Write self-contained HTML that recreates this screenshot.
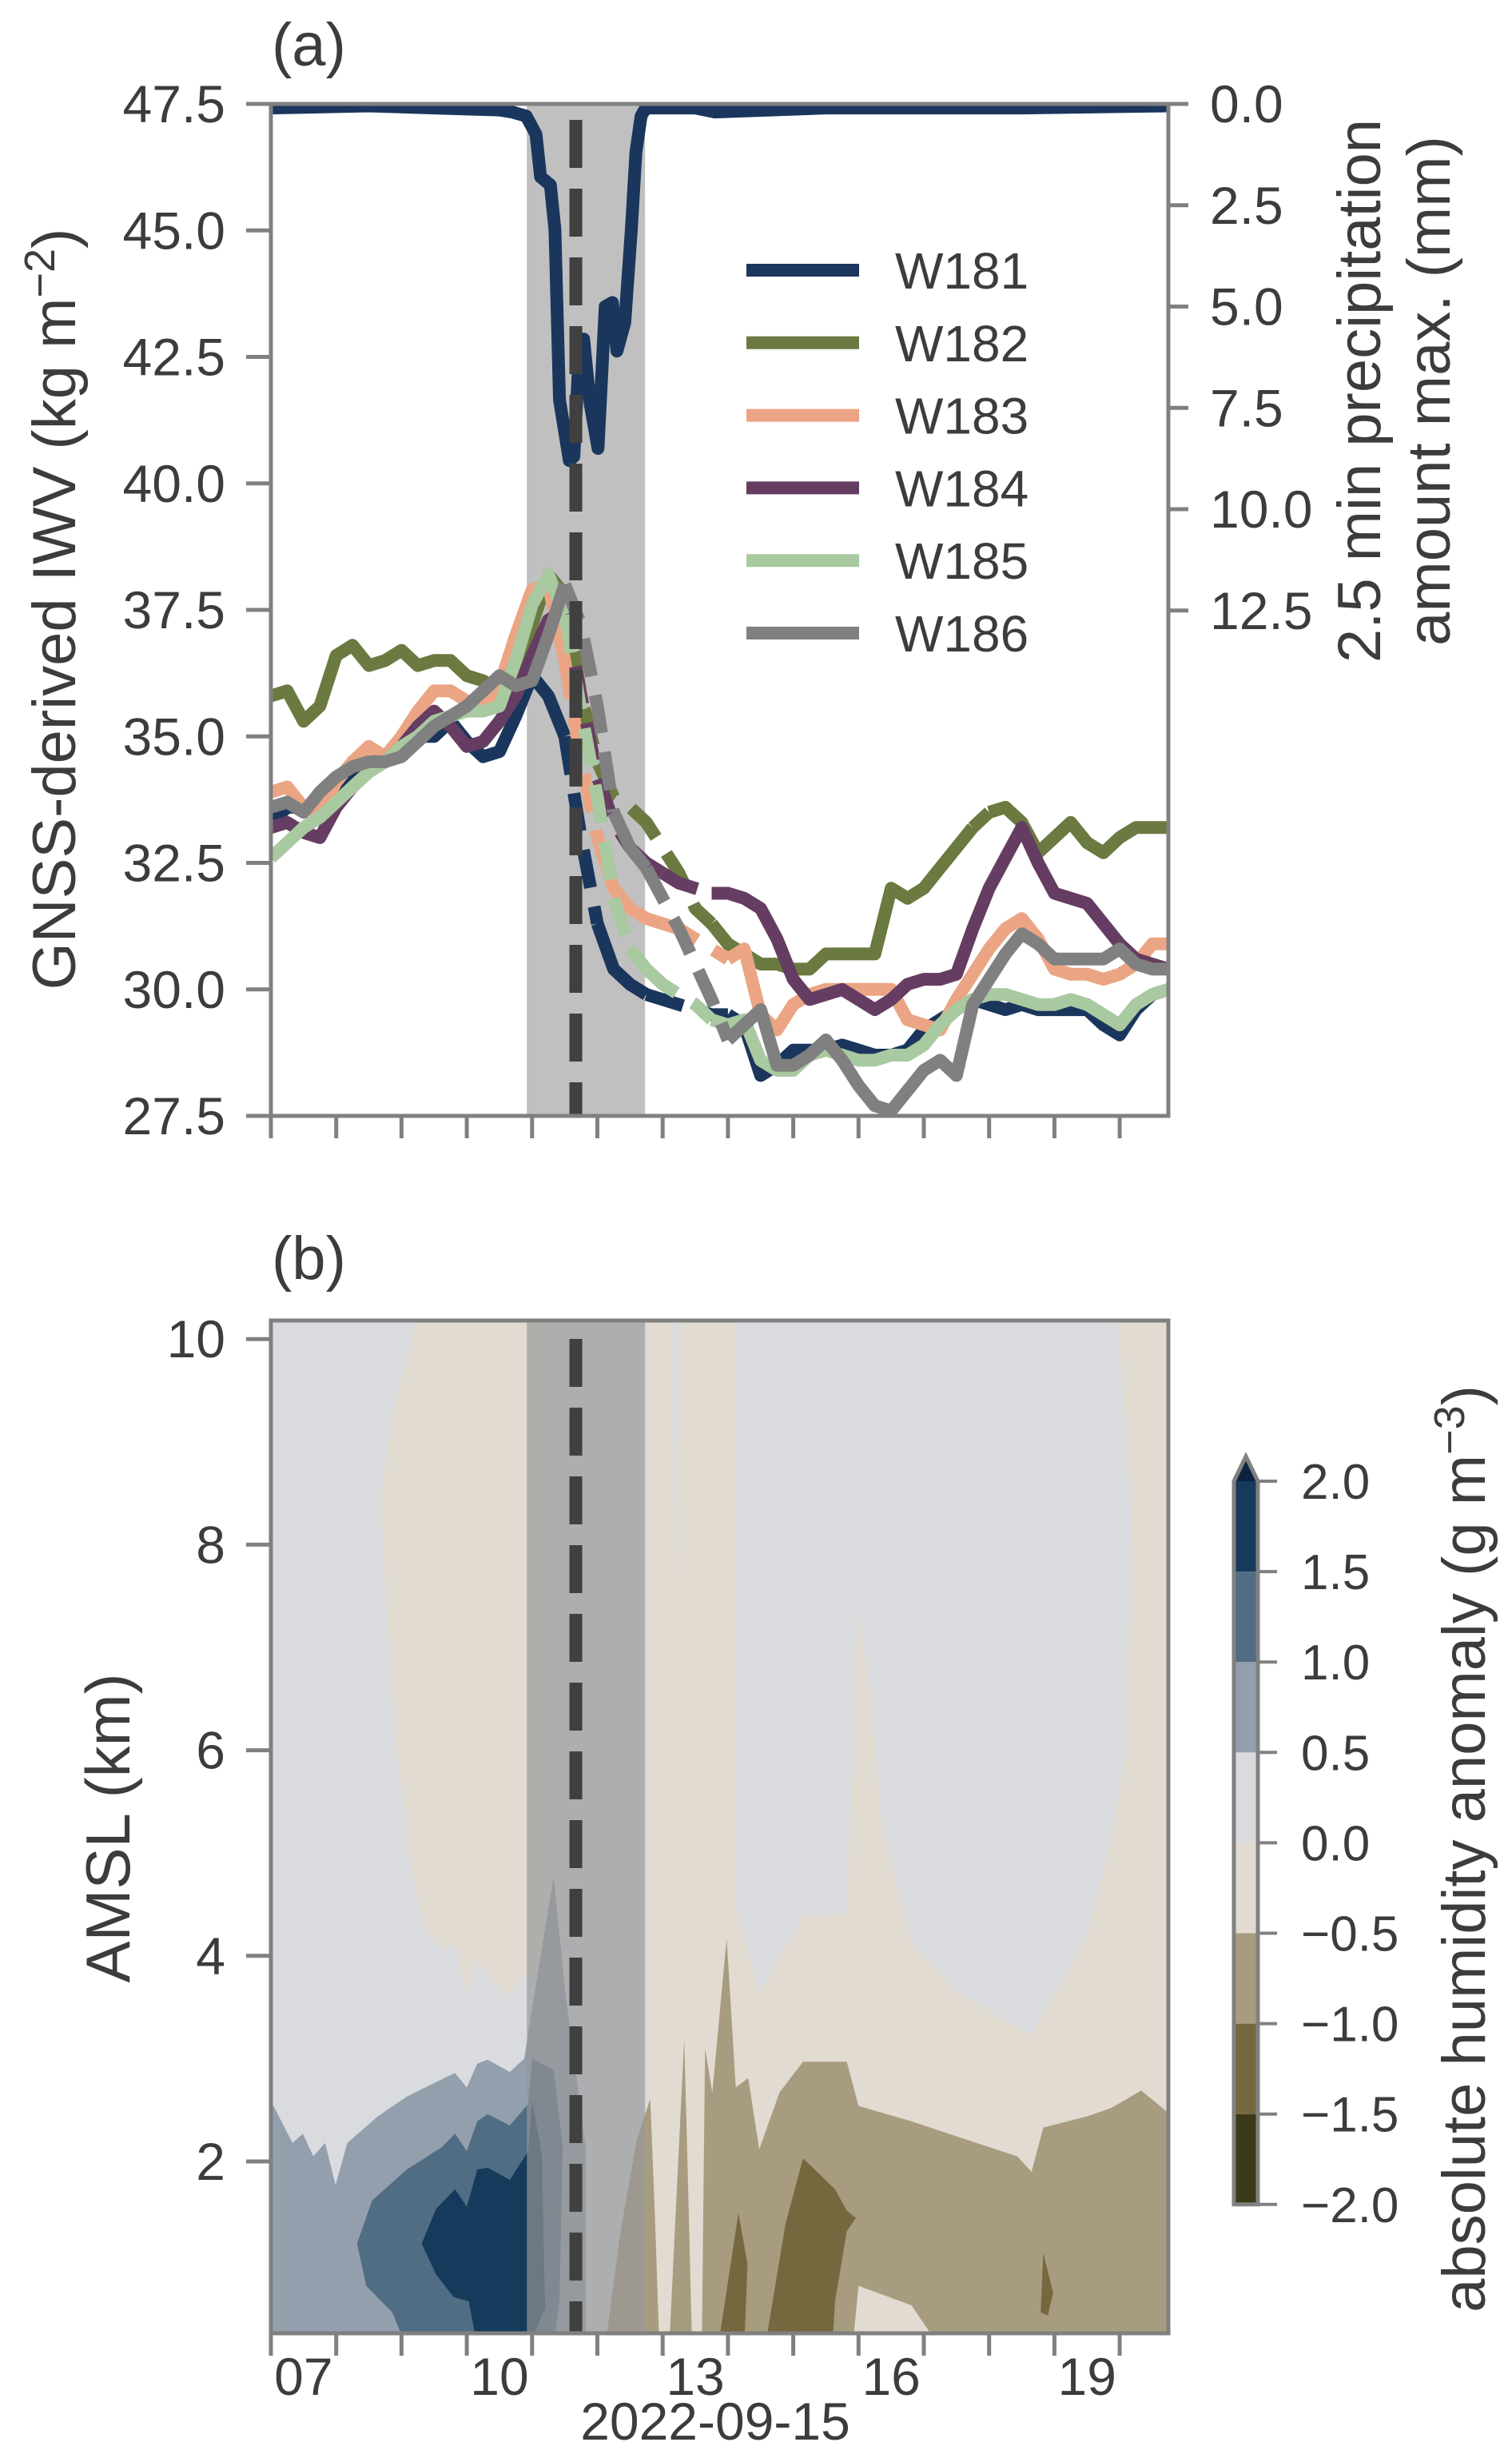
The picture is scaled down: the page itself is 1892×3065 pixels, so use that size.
<!DOCTYPE html>
<html><head><meta charset="utf-8">
<style>
html,body{margin:0;padding:0;background:#fff;}
svg{display:block;}
text{font-family:"Liberation Sans",Arial,sans-serif;fill:#3c3c3c;}
</style></head>
<body>
<svg id="fig" width="1892" height="3065" viewBox="0 0 1892 3065" xmlns="http://www.w3.org/2000/svg">
<defs>
<clipPath id="clipA"><rect x="339" y="130" width="1123" height="1266"/></clipPath>
<clipPath id="clipB"><rect x="339" y="1652" width="1123" height="1267"/></clipPath>
</defs>
<g id="panelA"></g>
<g id="panelB"></g>
<g id="cbar"></g>
</svg>
<script>
// ---------- data ----------
const times = [6.5,6.75,7,7.25,7.5,7.75,8,8.25,8.5,8.75,9,9.25,9.5,9.75,10,10.25,10.5,10.75,11,11.25,11.5,11.75,12,12.25,12.5,12.75,13,13.25,13.5,13.75,14,14.25,14.5,14.75,15,15.25,15.5,15.75,16,16.25,16.5,16.75,17,17.25,17.5,17.75,18,18.25,18.5,18.75,19,19.25,19.5,19.75,20,20.25];
const seriesNames = ["W181","W182","W183","W184","W185","W186"];
const w181 = [33.3,33.6,33.6,33.7,34.0,34.2,34.4,34.6,34.8,35.0,35.0,35.3,34.9,34.6,34.7,35.4,36.2,35.8,35.0,33.0,31.3,30.4,30.1,29.9,29.8,29.7,29.6,29.5,29.5,29.3,28.3,28.5,28.8,28.8,28.8,28.9,28.8,28.7,28.7,28.8,29.2,29.4,29.6,29.8,29.7,29.6,29.7,29.6,29.6,29.6,29.6,29.3,29.1,29.6,29.9,30.0];
const w182 = [35.8,35.9,35.3,35.6,36.6,36.8,36.4,36.5,36.7,36.4,36.5,36.5,36.2,36.1,35.9,36.0,37.2,38.2,37.8,35.8,34.5,33.8,33.6,33.3,32.8,32.3,31.6,31.3,30.9,30.7,30.5,30.5,30.4,30.4,30.7,30.7,30.7,30.7,32.0,31.8,32.0,32.4,32.8,33.2,33.5,33.6,33.3,32.7,33.0,33.3,32.9,32.7,33.0,33.2,33.2,33.2];
const w183 = [33.9,34.0,33.6,33.5,34.1,34.5,34.8,34.6,35.0,35.5,35.9,35.9,35.7,35.6,36.0,37.0,37.9,38.0,36.5,34.5,33.0,32.0,31.6,31.4,31.3,31.2,31.0,30.8,30.6,30.8,29.5,29.2,29.7,29.9,30.0,30.0,30.0,30.0,30.0,29.4,29.3,29.2,29.8,30.3,30.8,31.2,31.4,31.0,30.4,30.3,30.3,30.2,30.3,30.5,30.9,30.9];
const w184 = [33.2,33.3,33.1,33.0,33.6,34.0,34.3,34.5,34.8,35.2,35.5,35.2,34.8,34.9,35.3,35.8,36.6,37.3,37.5,35.8,34.2,33.3,32.8,32.5,32.3,32.1,32.0,31.9,31.9,31.8,31.6,31.0,30.2,29.8,29.9,30.0,29.8,29.6,29.8,30.1,30.2,30.2,30.3,31.2,32.0,32.6,33.2,32.5,31.9,31.8,31.7,31.3,30.9,30.6,30.5,30.4];
const w185 = [32.6,32.9,33.2,33.4,33.7,34.0,34.3,34.5,34.8,35.0,35.3,35.4,35.5,35.5,35.6,36.5,37.6,38.2,37.4,35.5,33.8,31.8,30.8,30.4,30.1,29.9,29.7,29.4,29.3,29.4,28.6,28.4,28.4,28.7,28.8,28.7,28.6,28.6,28.7,28.7,28.9,29.3,29.6,29.8,29.9,29.9,29.8,29.7,29.7,29.8,29.7,29.5,29.3,29.7,29.9,30.0];
const w186 = [33.6,33.7,33.5,33.9,34.2,34.4,34.5,34.5,34.6,34.9,35.2,35.4,35.6,35.9,36.2,36.0,36.1,37.0,38.0,37.2,35.6,33.5,32.8,32.4,31.8,31.2,30.5,29.8,29.0,29.3,29.6,28.5,28.5,28.7,29.0,28.6,28.1,27.7,27.6,28.0,28.4,28.6,28.3,29.7,30.2,30.7,31.1,30.9,30.6,30.6,30.6,30.6,30.8,30.5,30.4,30.4];
const dashStart = [[11.0,12.2],[11.1,17.3],[11.0,12.5],[11.1,12.6],[11.0,12.3],[11.1,12.2]];
const dashEnd   = [[11.5,13.4],[13.2,17.6],[11.6,13.5],[11.9,13.2],[11.9,13.3],[11.7,13.6]];
const precipTimes = [6.5,8,9,10,10.19,10.41,10.56,10.63,10.78,10.85,10.92,11.07,11.14,11.21,11.29,11.39,11.51,11.62,11.73,11.8,11.92,12.02,12.09,12.17,12.24,13,13.3,15,18,20.25];
const precipValues = [0.1,0.05,0.1,0.15,0.2,0.3,0.75,1.8,2.0,3.1,7.3,8.8,8.7,6.5,5.8,7.4,8.5,5.0,4.9,6.1,5.4,3.1,1.2,0.3,0.1,0.1,0.2,0.1,0.1,0.05];
const iwvTicks = [27.5,30.0,32.5,35.0,37.5,40.0,42.5,45.0,47.5];
const precipTicks = [0.0,2.5,5.0,7.5,10.0,12.5];
const xTickHours = [6.5,7.5,8.5,9.5,10.5,11.5,12.5,13.5,14.5,15.5,16.5,17.5,18.5,19.5];
const xLabelHours = [7,10,13,16,19];
const xLabelText = ["07","10","13","16","19"];
const rainBand = [10.42,12.23];
const eventHour = 11.17;
const kmTicks = [2,4,6,8,10];
const cbLevels = [-2,-1.5,-1,-0.5,0,0.5,1,1.5,2];
const cbColors = ["#3a3a18","#76683e","#a89c80","#e2dbd1","#d9dbde","#939fad","#516d84","#163a5c"];
// contour polygons [hour, km]
const beigeLeft = [[8.78,10.3],[8.36,9.27],[8.18,8.46],[8.27,7.39],[8.4,6.13],[8.57,5.3],[8.6,5.0],[8.85,4.28],[9.12,4.06],[9.32,4.11],[9.5,3.62],[9.64,3.94],[10.11,3.61],[10.38,3.79],[10.72,3.9],[10.72,10.3]];
const beigeRight = [[12.25,10.3],[20.4,10.3],[20.4,0.2],[12.25,0.2]];
const grayRight = [[13.62,10.3],[19.46,10.3],[19.68,8.3],[19.6,6.0],[19.37,5.14],[19.01,4.21],[18.38,3.49],[18.15,3.23],[17.03,3.64],[16.31,4.13],[15.85,5.3],[15.7,6.5],[15.48,7.39],[15.43,6.0],[15.37,5.3],[15.32,4.41],[14.65,4.39],[13.98,3.64],[13.62,4.5]];
const graySliver = [[12.65,10.3],[12.78,10.3],[12.7,7.39]];
const tanMain = [[13.1,0.2],[13.13,2.0],[13.15,3.1],[13.26,2.67],[13.48,4.17],[13.62,2.72],[13.81,2.81],[13.98,2.12],[14.29,2.67],[14.65,2.97],[15.32,2.97],[15.5,2.54],[16.31,2.39],[17.21,2.2],[17.93,2.05],[18.15,1.9],[18.33,2.33],[19.01,2.44],[19.37,2.52],[19.83,2.69],[20.4,2.39],[20.4,0.2],[16.74,0.2],[16.31,0.6],[15.5,0.79],[15.41,0.2]];
const tanSpike1 = [[11.62,0.2],[11.85,1.3],[12.1,2.2],[12.31,2.61],[12.38,1.5],[12.45,0.2]];
const tanSpike2 = [[12.6,0.2],[12.7,1.5],[12.83,3.19],[12.9,1.5],[12.95,0.2]];
const oliveA = [[14.07,0.2],[14.38,1.39],[14.65,2.03],[15.14,1.73],[15.32,1.52],[15.46,1.45],[15.32,1.32],[15.14,0.64],[15.1,0.2]];
const oliveB = [[13.35,0.2],[13.66,1.5],[13.8,1.0],[13.75,0.2]];
const oliveC = [[18.29,0.53],[18.33,1.11],[18.48,0.72],[18.4,0.5]];
const blueLight = [[6.3,2.54],[6.54,2.54],[6.83,2.18],[6.99,2.27],[7.15,2.05],[7.33,2.18],[7.49,1.77],[7.67,2.18],[8.14,2.44],[8.58,2.63],[9.12,2.8],[9.32,2.86],[9.5,2.72],[9.66,2.95],[9.82,2.99],[10.16,2.87],[10.38,3.0],[10.5,3.49],[10.83,4.77],[11.01,3.64],[11.32,2.14],[11.32,0.2],[6.3,0.2]];
const blueMid = [[7.82,1.2],[8.05,1.62],[8.58,1.92],[9.12,2.14],[9.32,2.27],[9.5,2.1],[9.66,2.39],[9.82,2.46],[10.16,2.35],[10.44,2.56],[10.5,3.0],[10.83,2.89],[10.97,2.14],[10.92,0.64],[10.83,0.2],[8.57,0.2],[8.36,0.53],[7.96,0.79]];
const blueDark = [[8.81,1.2],[9.03,1.54],[9.32,1.73],[9.5,1.56],[9.66,1.92],[9.82,1.94],[10.16,1.82],[10.44,2.1],[10.5,2.59],[10.65,2.07],[10.7,0.57],[10.44,0.2],[9.66,0.2],[9.53,0.64],[9.3,0.68],[9.03,0.9]];

// ---------- scales ----------
const X0=339, PXH=81.7;
function xS(t){return X0+(t-6.5)*PXH;}
function yA(v){return 130+(47.5-v)*63.3;}
function yP(mm){return 130+mm*50.7;}
function yB(km){return 2704-(km-2)*128.6;}
function yC(v){return 1853+(2-v)*226.2;}

const NS="http://www.w3.org/2000/svg";
function mk(tag,attrs,parent){const e=document.createElementNS(NS,tag);for(const k in attrs)e.setAttribute(k,attrs[k]);parent.appendChild(e);return e;}
const spine="#808080";
const colors=["#1b365d","#6b7a40","#eba584","#663d62","#a9c9a0","#808080"];
const series=[w181,w182,w183,w184,w185,w186];
const LW=16;

// ---------- panel A ----------
const A=document.getElementById('panelA');
let band=mk('rect',{x:xS(rainBand[0]),y:130,width:xS(rainBand[1])-xS(rainBand[0]),height:1266,fill:'#c0c0c0'},A);


const gA=mk('g',{'clip-path':'url(#clipA)'},A);
let pp=precipTimes.map((t,i)=>xS(t).toFixed(1)+','+yP(precipValues[i]).toFixed(1)).join(' ');
let pl=mk('polyline',{points:pp,fill:'none',stroke:'#1b365d','stroke-width':LW,'stroke-linejoin':'round'},gA);


function isDashed(si,t){for(let k=0;k<dashStart[si].length;k++){if(t>=dashStart[si][k]&&t<=dashEnd[si][k])return true;}return false;}
series.forEach((vals,si)=>{
  const g=mk('g',{},gA);
  
  
  let segs=[];let cur=null;
  for(let i=0;i<times.length-1;i++){
    const d=isDashed(si,(times[i]+times[i+1])/2);
    if(!cur||cur.d!==d){cur={d:d,pts:[[times[i],vals[i]]]};segs.push(cur);}
    cur.pts.push([times[i+1],vals[i+1]]);
  }
  segs.forEach(s=>{
    const attrs={points:s.pts.map(p=>xS(p[0]).toFixed(1)+','+yA(p[1]).toFixed(1)).join(' '),fill:'none',stroke:colors[si],'stroke-width':LW,'stroke-linejoin':'round'};
    if(s.d)attrs['stroke-dasharray']='48 24';
    const l=mk('polyline',attrs,g);
    
    
  });
});
let vl=mk('line',{x1:xS(eventHour),x2:xS(eventHour),y1:150,y2:1396,stroke:'#404040','stroke-width':16,'stroke-dasharray':'60 26'},A);


const leg=mk('g',{},A);


seriesNames.forEach((n,i)=>{
  const y=338+i*90.8;
  const e=mk('g',{},leg);
  
  
  mk('line',{x1:934,x2:1075,y1:y,y2:y,stroke:colors[i],'stroke-width':LW},e);
  const t=mk('text',{x:1120,y:y+23,'font-size':64},e);t.textContent=n;
});
const fa=mk('rect',{x:339,y:130,width:1123,height:1266,fill:'none',stroke:spine,'stroke-width':5},A);


iwvTicks.forEach(v=>{
  mk('line',{x1:308,x2:339,y1:yA(v),y2:yA(v),stroke:spine,'stroke-width':5},A);
  const t=mk('text',{x:282,y:yA(v)+23,'font-size':66,'text-anchor':'end'},A);t.textContent=v.toFixed(1);
  
  
});
precipTicks.forEach(v=>{
  mk('line',{x1:1462,x2:1487,y1:yP(v),y2:yP(v),stroke:spine,'stroke-width':5},A);
  const t=mk('text',{x:1514,y:yP(v)+23,'font-size':66},A);t.textContent=v.toFixed(1);
  
  
});
xTickHours.forEach(h=>{mk('line',{x1:xS(h),x2:xS(h),y1:1396,y2:1424,stroke:spine,'stroke-width':5},A);});
let t1=mk('text',{x:0,y:0,'font-size':76,'text-anchor':'middle',transform:'translate(94,762) rotate(-90)'},A);
t1.innerHTML='GNSS-derived IWV (kg m<tspan dy="-26" font-size="54">−2</tspan><tspan dy="26">)</tspan>';


let t2=mk('text',{x:0,y:0,'font-size':76,'text-anchor':'middle',transform:'translate(1727,489) rotate(-90)'},A);
t2.textContent='2.5 min precipitation';


let t3=mk('text',{x:0,y:0,'font-size':76,'text-anchor':'middle',transform:'translate(1814,489) rotate(-90)'},A);
t3.textContent='amount max. (mm)';


let la=mk('text',{x:340,y:82,'font-size':76},A);la.textContent='(a)';



// ---------- panel B ----------
const B=document.getElementById('panelB');
const gB=mk('g',{'clip-path':'url(#clipB)'},B);
mk('rect',{x:339,y:1652,width:1123,height:1267,fill:'#d9dbde'},gB);
function poly(arr,fill,name){
  const p=mk('polygon',{points:arr.map(q=>xS(q[0]).toFixed(1)+','+yB(q[1]).toFixed(1)).join(' '),fill:fill},gB);
  
  
}
poly(beigeRight,'#e2dbd1','contour-neg-0-5-right');
poly(beigeLeft,'#e2dbd1','contour-neg-0-5-left');
poly(grayRight,'#d9dbde','contour-0-0-5-right');
poly(graySliver,'#d9dbde','contour-0-0-5-sliver');
poly(tanSpike1,'#a89c80','contour-neg-1-spike1');
poly(tanSpike2,'#a89c80','contour-neg-1-spike2');
poly(tanMain,'#a89c80','contour-neg-1-main');
poly(oliveA,'#76683e','contour-neg-1-5-a');
poly(oliveB,'#76683e','contour-neg-1-5-b');
poly(oliveC,'#76683e','contour-neg-1-5-c');
poly(blueLight,'#939fad','contour-0-5-1');
poly(blueMid,'#516d84','contour-1-1-5');
poly(blueDark,'#163a5c','contour-1-5-2');
let bandB=mk('rect',{x:xS(rainBand[0]),y:1652,width:xS(rainBand[1])-xS(rainBand[0]),height:1267,fill:'#979797','fill-opacity':0.667},gB);


let vl2=mk('line',{x1:xS(eventHour),x2:xS(eventHour),y1:1675,y2:2919,stroke:'#404040','stroke-width':16,'stroke-dasharray':'60 26'},B);


const fb=mk('rect',{x:339,y:1652,width:1123,height:1267,fill:'none',stroke:spine,'stroke-width':5},B);


kmTicks.forEach(v=>{
  mk('line',{x1:308,x2:339,y1:yB(v),y2:yB(v),stroke:spine,'stroke-width':5},B);
  const t=mk('text',{x:282,y:yB(v)+23,'font-size':66,'text-anchor':'end'},B);t.textContent=v;
  
  
});
xTickHours.forEach(h=>{mk('line',{x1:xS(h),x2:xS(h),y1:2919,y2:2947,stroke:spine,'stroke-width':5},B);});
xLabelHours.forEach((h,i)=>{
  const t=mk('text',{x:xS(h),y:2996,'font-size':66,'text-anchor':'middle'},B);t.textContent=xLabelText[i];
  
  
});
let dt=mk('text',{x:895,y:3052,'font-size':66,'text-anchor':'middle'},B);dt.textContent='2022-09-15';


let ab=mk('text',{x:0,y:0,'font-size':78,'text-anchor':'middle',transform:'translate(162,2287) rotate(-90)'},B);ab.textContent='AMSL (km)';


let lb=mk('text',{x:340,y:1600,'font-size':76},B);lb.textContent='(b)';



// ---------- colorbar ----------
const C=document.getElementById('cbar');
for(let i=0;i<cbColors.length;i++){
  const r=mk('rect',{x:1544,y:yC(cbLevels[i+1]),width:30,height:yC(cbLevels[i])-yC(cbLevels[i+1]),fill:cbColors[i]},C);
  
  
}
mk('polygon',{points:'1544,'+yC(2)+' 1574,'+yC(2)+' 1559,1822',fill:'#0c2240'},C);
mk('polygon',{points:'1544,'+yC(-2)+' 1544,'+yC(2)+' 1559,1822 1574,'+yC(2)+' 1574,'+yC(-2),fill:'none',stroke:spine,'stroke-width':5},C);
cbLevels.forEach(v=>{
  mk('line',{x1:1574,x2:1598,y1:yC(v),y2:yC(v),stroke:spine,'stroke-width':4},C);
  const t=mk('text',{x:1628,y:yC(v)+22,'font-size':62},C);t.textContent=(v<0?'−':'')+Math.abs(v).toFixed(1);
  
  
});
let ct=mk('text',{x:0,y:0,'font-size':76,'text-anchor':'middle',transform:'translate(1858,2313) rotate(-90)'},C);
ct.innerHTML='absolute humidity anomaly (g m<tspan dy="-26" font-size="54">−3</tspan><tspan dy="26">)</tspan>';


</script>
</body></html>
